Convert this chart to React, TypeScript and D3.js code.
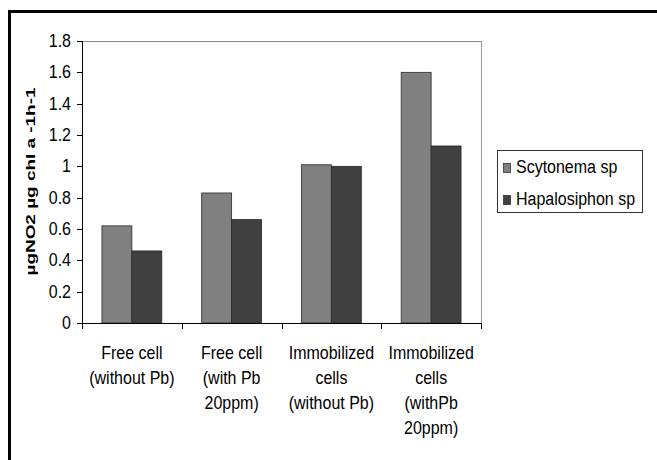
import React from "react";
import * as d3 from "d3";

const categories = ["Free cell (without Pb)", "Free cell (with Pb 20ppm)", "Immobilized cells (without Pb)", "Immobilized cells (withPb 20ppm)"];
const categoryLines = [
  ["Free cell", "(without Pb)"],
  ["Free cell", "(with Pb", "20ppm)"],
  ["Immobilized", "cells", "(without Pb)"],
  ["Immobilized", "cells", "(withPb", "20ppm)"],
];
const seriesNames = ["Scytonema sp", "Hapalosiphon sp"];
const scytonema = [0.62, 0.83, 1.01, 1.6];
const hapalosiphon = [0.46, 0.66, 1.0, 1.13];
const yTicks = [0, 0.2, 0.4, 0.6, 0.8, 1, 1.2, 1.4, 1.6, 1.8];
const colors = ["#808080", "#404040"];
const yTitle = "µgNO2 µg chl a -1h-1";

const W = 657;
const H = 460;
const plot = { left: 82, right: 481, top: 41, bottom: 323 };
const FONT = "'Liberation Sans', Arial, sans-serif";
const SY = 1.14;

function T(props: { x: number; y: number; anchor?: string; size?: number; children: React.ReactNode }) {
  return (
    <text
      transform={`translate(${props.x},${props.y}) scale(1,${SY})`}
      textAnchor={props.anchor || "start"}
      fontSize={props.size || 16}
      fill="#000"
    >
      {props.children}
    </text>
  );
}

export default function App() {
  const y = d3.scaleLinear().domain([0, 1.8]).range([plot.bottom, plot.top]);
  const x = d3.scaleBand<string>().domain(categories).range([plot.left, plot.right]).paddingInner(0).paddingOuter(0);
  const bw = x.bandwidth();
  const inner = d3.scaleBand<string>().domain(seriesNames).range([bw * 0.2, bw * 0.8]);
  const values = [scytonema, hapalosiphon];
  const boundaries = categories.map((c) => x(c) as number).concat([plot.right]);

  return (
    <svg width={W} height={H} style={{ position: "absolute", left: 0, top: 0, display: "block", background: "#fff" }} fontFamily={FONT}>
      <rect x={0} y={0} width={W} height={H} fill="#fff" />
      <rect x={9.5} y={11.5} width={W + 20} height={H + 20} fill="#fff" stroke="#000" strokeWidth={3} />

      {/* plot area border (top and right) */}
      <line x1={plot.left} x2={plot.right} y1={plot.top + 0.5} y2={plot.top + 0.5} stroke="#8a8a8a" strokeWidth={1} />
      <line x1={plot.right + 0.5} x2={plot.right + 0.5} y1={plot.top} y2={plot.bottom} stroke="#9a9a9a" strokeWidth={1} />

      {/* bars */}
      {categories.map((c, i) => (
        <g key={c}>
          {seriesNames.map((s, j) => {
            const bx = (x(c) as number) + (inner(s) as number);
            const by = y(values[j][i]);
            return (
              <rect key={s} x={bx} y={by} width={inner.bandwidth()} height={plot.bottom - by} fill={colors[j]} stroke="#2a2a2a" strokeWidth={0.8} />
            );
          })}
        </g>
      ))}

      {/* y axis */}
      <line x1={plot.left + 0.5} x2={plot.left + 0.5} y1={plot.top} y2={plot.bottom} stroke="#000" strokeWidth={1} />
      {yTicks.map((t) => (
        <g key={t}>
          <line x1={plot.left - 5} x2={plot.left} y1={Math.round(y(t)) + 0.5} y2={Math.round(y(t)) + 0.5} stroke="#000" strokeWidth={1} />
          <T x={71} y={y(t) + 6} anchor="end">
            {String(t)}
          </T>
        </g>
      ))}

      {/* x axis */}
      <line x1={plot.left} x2={plot.right + 1} y1={plot.bottom + 0.5} y2={plot.bottom + 0.5} stroke="#000" strokeWidth={1} />
      {boundaries.map((b, i) => (
        <line key={i} x1={Math.round(b) + 0.5} x2={Math.round(b) + 0.5} y1={plot.bottom} y2={plot.bottom + 6} stroke="#000" strokeWidth={1} />
      ))}
      {categories.map((c, i) => (
        <g key={c}>
          {categoryLines[i].map((ln, k) => (
            <T key={k} x={(x(c) as number) + bw / 2} y={358.5 + k * 25} anchor="middle">
              {ln}
            </T>
          ))}
        </g>
      ))}

      {/* y title */}
      <text
        transform={`translate(30, 181.5) rotate(-90)`}
        textAnchor="middle"
        dominantBaseline="central"
        fontSize={13.5}
        fontWeight="bold"
        textLength={188}
        lengthAdjust="spacingAndGlyphs"
        fill="#000"
      >
        {yTitle}
      </text>

      {/* legend */}
      <rect x={497.5} y={150.5} width={145} height={62} fill="#fff" stroke="#333" strokeWidth={1} />
      {seriesNames.map((s, j) => (
        <g key={s}>
          <rect x={503.5} y={163.5 + j * 32} width={7} height={9} fill={colors[j]} stroke="#333" strokeWidth={0.8} />
          <T x={516} y={172.5 + j * 32}>
            {s}
          </T>
        </g>
      ))}
    </svg>
  );
}
